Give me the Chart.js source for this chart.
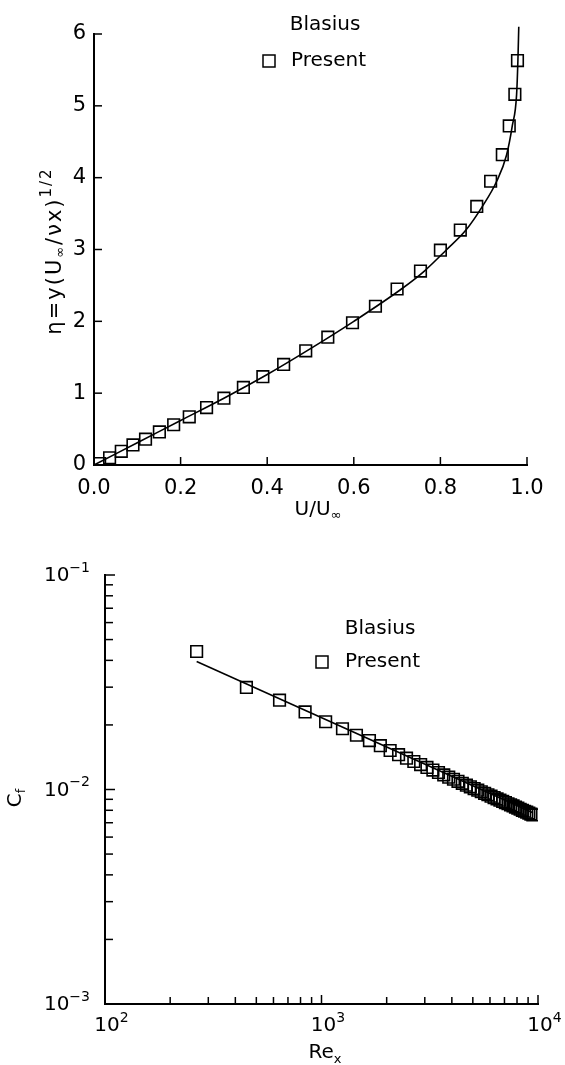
<!DOCTYPE html>
<html>
<head>
<meta charset="utf-8">
<script src="https://cdn.jsdelivr.net/npm/chart.js@4.4.0/dist/chart.umd.min.js"></script>
<style>
  body { margin: 0; background: #fff; }
  #grafico-perfil { position: absolute; left: 0; top: 0; }
  #grafico-atrito { position: absolute; left: 0; top: 520px; }
</style>
</head>
<body>
<canvas id="grafico-perfil" width="565" height="530"></canvas>
<canvas id="grafico-atrito" width="565" height="545"></canvas>
<script>
// ---- perfil de velocidade (grafico de cima) ----
var perfilU = [0.013, 0.036, 0.063, 0.09, 0.119, 0.151, 0.184, 0.22, 0.26, 0.30, 0.345, 0.39, 0.438, 0.489,
  0.54, 0.597, 0.65, 0.70, 0.754, 0.80, 0.846, 0.884, 0.916, 0.943, 0.959, 0.972, 0.978];
var perfilEta = [0.02, 0.10, 0.19, 0.28, 0.36, 0.46, 0.56, 0.67, 0.80, 0.93, 1.08, 1.23, 1.40, 1.59,
  1.78, 1.98, 2.21, 2.45, 2.70, 2.99, 3.27, 3.60, 3.95, 4.32, 4.72, 5.16, 5.63];
var blasiusU = [0, 0.1, 0.2, 0.3, 0.4, 0.5, 0.6, 0.71, 0.763, 0.813, 0.859, 0.897, 0.930, 0.953, 0.966, 0.976, 0.979, 0.981];
var blasiusEta = [0, 0.31, 0.62, 0.93, 1.26, 1.62, 2.0, 2.45, 2.70, 2.99, 3.27, 3.60, 3.95, 4.32, 4.72, 5.16, 5.63, 6.1];
var ticksU = [0, 0.2, 0.4, 0.6, 0.8, 1.0];
var ticksEta = [0, 1, 2, 3, 4, 5, 6];

// ---- coeficiente de atrito (grafico de baixo) ----
var reX = [265, 450, 640, 840, 1045, 1250, 1450, 1665, 1870, 2075, 2270, 2470, 2670, 2870, 3070, 3270,
  3470, 3670, 3870, 4070, 4270, 4470, 4670, 4870, 5070, 5270, 5470, 5670, 5870, 6070, 6270, 6470,
  6670, 6870, 7070, 7270, 7470, 7670, 7870, 8070, 8270, 8470, 8670, 8870, 9070, 9270, 9470];
var cfPresente = [0.0440, 0.0299, 0.0261, 0.0230, 0.0207, 0.0192, 0.0179, 0.0169, 0.0160, 0.0152, 0.01454,
  0.01399, 0.01351, 0.01307, 0.01268, 0.01232, 0.01200, 0.01170, 0.01142, 0.01116, 0.01092, 0.01069,
  0.01048, 0.01029, 0.01010, 0.00993, 0.00976, 0.00960, 0.00945, 0.00931, 0.00917, 0.00904, 0.00892,
  0.00880, 0.00869, 0.00858, 0.00848, 0.00838, 0.00828, 0.00818, 0.00809, 0.00800, 0.00792, 0.00784,
  0.00776, 0.00768, 0.00761];
var blasiusRe = [265, 9470];
var blasiusCf = [0.0395, 0.0078];
var ticksRe = [100, 1000, 10000];
var expoRe = ["2", "3", "4"];
var menoresRe = [200, 300, 400, 500, 600, 700, 800, 900, 2000, 3000, 4000, 5000, 6000, 7000, 8000, 9000];
var ticksCf = [0.001, 0.01, 0.1];
var expoCf = ["−3", "−2", "−1"];
var menoresCf = [0.002, 0.003, 0.004, 0.005, 0.006, 0.007, 0.008, 0.009,
  0.02, 0.03, 0.04, 0.05, 0.06, 0.07, 0.08, 0.09];

var fonte = '"DejaVu Sans"';

function pares(xs, ys) {
  var out = [];
  for (var i = 0; i < xs.length; i++) {
    out.push({ x: xs[i], y: ys[i] });
  }
  return out;
}

function linha(ctx, x1, y1, x2, y2) {
  ctx.beginPath();
  ctx.moveTo(x1, y1);
  ctx.lineTo(x2, y2);
  ctx.stroke();
}

function largura(ctx, partes) {
  var total = 0;
  partes.forEach(function (p) {
    ctx.font = p.tam + "px " + fonte;
    total += ctx.measureText(p.t).width;
  });
  return total;
}

// escreve texto com pedacos em indice / expoente a partir de x
function escreverDe(ctx, partes, x, y) {
  var cx = x;
  ctx.textAlign = "left";
  ctx.textBaseline = "middle";
  partes.forEach(function (p) {
    ctx.font = p.tam + "px " + fonte;
    ctx.fillText(p.t, cx, y + (p.dy || 0));
    cx += ctx.measureText(p.t).width;
  });
}

function escrever(ctx, partes, x, y) {
  escreverDe(ctx, partes, x - largura(ctx, partes) / 2, y);
}

var marcasPerfil = {
  id: "marcasPerfil",
  afterDraw: function (chart) {
    var ctx = chart.ctx;
    var area = chart.chartArea;
    var sx = chart.scales.x;
    var sy = chart.scales.y;
    ctx.save();
    ctx.strokeStyle = "#000";
    ctx.fillStyle = "#000";
    ctx.lineWidth = 1.5;
    for (var i = 0; i < ticksEta.length; i++) {
      var y = sy.getPixelForValue(ticksEta[i]);
      linha(ctx, area.left, y, area.left + 8, y);
    }
    for (var j = 1; j < ticksU.length; j++) {
      var x = sx.getPixelForValue(ticksU[j]);
      linha(ctx, x, area.bottom, x, area.bottom - 8);
    }

    // legenda
    ctx.font = "20px " + fonte;
    ctx.textBaseline = "middle";
    ctx.textAlign = "center";
    ctx.fillText("Blasius", 325, 25);
    ctx.strokeRect(263, 55, 12, 12);
    ctx.textAlign = "left";
    ctx.fillText("Present", 291, 61);

    // titulos dos eixos
    escrever(ctx, [{ t: "U/U", tam: 20 }, { t: "∞", tam: 13, dy: 6 }], 318, 510);

    ctx.translate(56, 251);
    ctx.rotate(-Math.PI / 2);
    ctx.letterSpacing = "2px";
    escrever(ctx, [
      { t: "η=y(U", tam: 21 },
      { t: "∞", tam: 13, dy: 5 },
      { t: "/νx)", tam: 21 },
      { t: "1/2", tam: 15, dy: -9 }
    ], 0, 0);
    ctx.restore();
  }
};

var marcasAtrito = {
  id: "marcasAtrito",
  afterDraw: function (chart) {
    var ctx = chart.ctx;
    var area = chart.chartArea;
    var sx = chart.scales.x;
    var sy = chart.scales.y;
    ctx.save();
    ctx.strokeStyle = "#000";
    ctx.fillStyle = "#000";
    ctx.lineWidth = 1.5;
    for (var i = 0; i < ticksCf.length; i++) {
      var y = sy.getPixelForValue(ticksCf[i]);
      linha(ctx, area.left, y, area.left + 10, y);
      // rotulo 10^n alinhado a direita
      var partesY = [{ t: "10", tam: 20 }, { t: expoCf[i], tam: 14, dy: -8 }];
      escreverDe(ctx, partesY, area.left - 15 - largura(ctx, partesY), y + 1);
    }
    for (var k = 0; k < menoresCf.length; k++) {
      var y2 = sy.getPixelForValue(menoresCf[k]);
      linha(ctx, area.left, y2, area.left + 8, y2);
    }
    for (var j = 0; j < menoresRe.length; j++) {
      var x = sx.getPixelForValue(menoresRe[j]);
      linha(ctx, x, area.bottom, x, area.bottom - 7);
    }
    for (var m = 0; m < ticksRe.length; m++) {
      var x2 = sx.getPixelForValue(ticksRe[m]);
      if (m > 0) {
        linha(ctx, x2, area.bottom, x2, area.bottom - 9);
      }
      ctx.font = "20px " + fonte;
      var w10 = ctx.measureText("10").width;
      escreverDe(ctx, [{ t: "10", tam: 20 }, { t: expoRe[m], tam: 14, dy: -8 }], x2 - w10 / 2 + 2, area.bottom + 22);
    }

    // legenda
    ctx.font = "20px " + fonte;
    ctx.textBaseline = "middle";
    ctx.textAlign = "center";
    ctx.fillText("Blasius", 380, 109);
    ctx.strokeRect(316, 136, 12, 12);
    ctx.textAlign = "left";
    ctx.fillText("Present", 345, 142);

    // titulos dos eixos
    escrever(ctx, [{ t: "Re", tam: 20 }, { t: "x", tam: 13, dy: 7 }], 325, 533);

    ctx.translate(16, 278);
    ctx.rotate(-Math.PI / 2);
    escrever(ctx, [{ t: "C", tam: 20 }, { t: "f", tam: 13, dy: 6 }], 0, 0);
    ctx.restore();
  }
};

function eixoBase(extra) {
  var base = {
    grid: { display: false },
    border: { display: true, color: "#000", width: 2 }
  };
  for (var k in extra) {
    base[k] = extra[k];
  }
  return base;
}

var grafPerfil = new Chart(document.getElementById("grafico-perfil").getContext("2d"), {
  type: "scatter",
  data: {
    datasets: [
      {
        label: "Blasius",
        data: pares(blasiusU, blasiusEta),
        showLine: true,
        borderColor: "#000",
        borderWidth: 1.6,
        pointRadius: 0,
        cubicInterpolationMode: "monotone",
        clip: false
      },
      {
        label: "Present",
        data: pares(perfilU, perfilEta),
        showLine: false,
        pointStyle: "rect",
        pointRadius: 8.2,
        pointBorderWidth: 1.6,
        borderColor: "#000",
        backgroundColor: "rgba(0,0,0,0)"
      }
    ]
  },
  options: {
    responsive: false,
    animation: false,
    devicePixelRatio: 1,
    layout: { padding: { left: 0, right: 38, top: 34, bottom: 0 } },
    plugins: { legend: { display: false }, tooltip: { enabled: false } },
    scales: {
      x: eixoBase({
        type: "linear",
        min: 0,
        max: 1,
        afterBuildTicks: function (s) {
          s.ticks = ticksU.map(function (v) { return { value: v }; });
        },
        afterFit: function (s) { s.height = 65; },
        ticks: {
          color: "#000",
          padding: 3,
          font: { family: "DejaVu Sans", size: 21 },
          callback: function (v) { return Number(v).toFixed(1); }
        }
      }),
      y: eixoBase({
        type: "linear",
        min: 0,
        max: 6,
        afterBuildTicks: function (s) {
          s.ticks = ticksEta.map(function (v) { return { value: v }; });
        },
        afterFit: function (s) { s.width = 94; },
        ticks: {
          color: "#000",
          padding: 0,
          font: { family: "DejaVu Sans", size: 21 },
          callback: function (v) { return String(v); }
        }
      })
    }
  },
  plugins: [marcasPerfil]
});

var grafAtrito = new Chart(document.getElementById("grafico-atrito").getContext("2d"), {
  type: "scatter",
  data: {
    datasets: [
      {
        label: "Blasius",
        data: pares(blasiusRe, blasiusCf),
        showLine: true,
        borderColor: "#000",
        borderWidth: 1.6,
        pointRadius: 0
      },
      {
        label: "Present",
        data: pares(reX, cfPresente),
        showLine: false,
        pointStyle: "rect",
        pointRadius: 8.2,
        pointBorderWidth: 1.6,
        borderColor: "#000",
        backgroundColor: "rgba(0,0,0,0)"
      }
    ]
  },
  options: {
    responsive: false,
    animation: false,
    devicePixelRatio: 1,
    layout: { padding: { left: 0, right: 27, top: 55, bottom: 0 } },
    plugins: { legend: { display: false }, tooltip: { enabled: false } },
    scales: {
      x: eixoBase({
        type: "logarithmic",
        min: 100,
        max: 10000,
        afterBuildTicks: function (s) {
          s.ticks = ticksRe.map(function (v) { return { value: v }; });
        },
        afterFit: function (s) { s.height = 61; },
        ticks: { display: false }
      }),
      y: eixoBase({
        type: "logarithmic",
        min: 0.001,
        max: 0.1,
        afterBuildTicks: function (s) {
          s.ticks = ticksCf.map(function (v) { return { value: v }; });
        },
        afterFit: function (s) { s.width = 105; },
        ticks: { display: false }
      })
    }
  },
  plugins: [marcasAtrito]
});
</script>
</body>
</html>
